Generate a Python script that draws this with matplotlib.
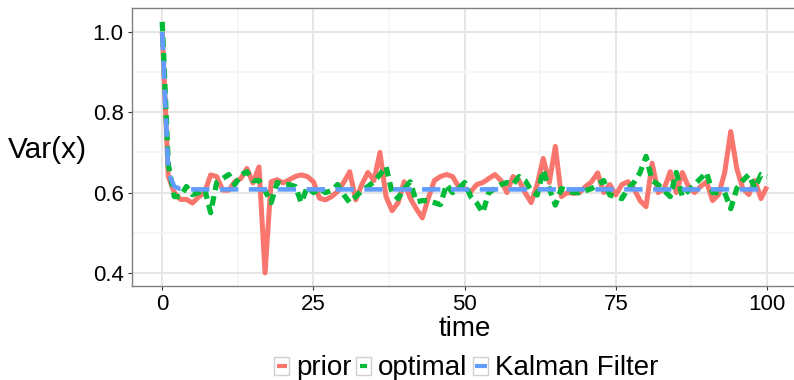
import matplotlib
matplotlib.use("Agg")
import matplotlib.pyplot as plt
from matplotlib.patches import Rectangle
from matplotlib.lines import Line2D
import numpy as np

plt.rcParams['font.family'] = ['Liberation Sans', 'DejaVu Sans']

time = list(range(101))
prior = [1.00, 0.64, 0.60, 0.583, 0.583, 0.574, 0.589, 0.60, 0.644, 0.64,
         0.606, 0.606, 0.627, 0.635, 0.66, 0.624, 0.664, 0.40, 0.627, 0.632,
         0.624, 0.632, 0.64, 0.644, 0.64, 0.627, 0.586, 0.582, 0.59, 0.603,
         0.625, 0.652, 0.582, 0.62, 0.65, 0.63, 0.70, 0.59, 0.555, 0.575,
         0.627, 0.586, 0.56, 0.537, 0.586, 0.63, 0.64, 0.645, 0.64, 0.615,
         0.61, 0.602, 0.62, 0.625, 0.635, 0.645, 0.63, 0.60, 0.64, 0.63,
         0.60, 0.575, 0.62, 0.685, 0.625, 0.715, 0.59, 0.60, 0.598, 0.60,
         0.615, 0.627, 0.649, 0.60, 0.62, 0.594, 0.62, 0.627, 0.61, 0.58,
         0.565, 0.673, 0.60, 0.61, 0.652, 0.60, 0.65, 0.615, 0.60, 0.615,
         0.627, 0.58, 0.595, 0.65, 0.752, 0.66, 0.61, 0.595, 0.63, 0.585,
         0.615]
optimal = [1.025, 0.67, 0.59, 0.59, 0.615, 0.595, 0.60, 0.61, 0.55, 0.625,
           0.635, 0.645, 0.62, 0.644, 0.652, 0.63, 0.63, 0.605, 0.575, 0.625,
           0.62, 0.62, 0.615, 0.575, 0.615, 0.60, 0.61, 0.60, 0.605, 0.62,
           0.595, 0.575, 0.59, 0.605, 0.615, 0.627, 0.645, 0.665, 0.60, 0.585,
           0.61, 0.627, 0.577, 0.58, 0.58, 0.575, 0.57, 0.62, 0.60, 0.61,
           0.625, 0.59, 0.574, 0.55, 0.60, 0.61, 0.62, 0.625, 0.62, 0.64,
           0.63, 0.605, 0.594, 0.656, 0.61, 0.569, 0.61, 0.605, 0.60, 0.60,
           0.605, 0.61, 0.62, 0.63, 0.594, 0.59, 0.585, 0.61, 0.625, 0.65,
           0.69, 0.63, 0.62, 0.605, 0.59, 0.65, 0.59, 0.605, 0.62, 0.635,
           0.65, 0.60, 0.60, 0.60, 0.56, 0.61, 0.63, 0.645, 0.61, 0.645,
           0.64]
kalman = [1.0, 0.65, 0.615, 0.609] + [0.608] * 97

series_names = ["prior", "optimal", "Kalman Filter"]
colors = ["#F8766D", "#00BA38", "#619CFF"]
x_ticks = [0, 25, 50, 75, 100]
x_ticklabels = ["0", "25", "50", "75", "100"]
y_ticks = [0.4, 0.6, 0.8, 1.0]
y_ticklabels = ["0.4", "0.6", "0.8", "1.0"]

W, H = 794, 380
fig = plt.figure(figsize=(W / 100, H / 100), dpi=100)

def fx(px):
    return px / W

def fy(py):
    return 1 - py / H

left, right, top, bottom = 132, 797.25, 8.3, 285.7
ax = fig.add_axes([fx(left), fy(bottom), fx(right) - fx(left), fy(top) - fy(bottom)])

ax.set_xlim(-5, 105)
ax.set_ylim(0.3682, 1.0588)

ax.set_xticks(x_ticks)
ax.set_xticklabels(x_ticklabels)
ax.set_xticks([12.5, 37.5, 62.5, 87.5], minor=True)
ax.set_yticks(y_ticks)
ax.set_yticklabels(y_ticklabels)
ax.set_yticks([0.5, 0.7, 0.9], minor=True)

ax.grid(which='major', color='#e6e6e6', linewidth=1.4)
ax.grid(which='minor', color='#f5f5f5', linewidth=1.2)
ax.set_axisbelow(True)

for s in ax.spines.values():
    s.set_color('#7f7f7f')
    s.set_linewidth(1.0)

ax.tick_params(which='major', length=3, width=0.8, color='#333333',
               labelcolor='black')
ax.tick_params(which='minor', length=0)
ax.tick_params(axis='y', labelsize=16, pad=3)
ax.tick_params(axis='x', labelsize=16, pad=3)

ax.plot(time, prior, color=colors[0], linewidth=3.6, solid_capstyle='butt',
        solid_joinstyle='round')
ax.plot(time, optimal, color=colors[1], linewidth=3.8,
        dashes=(1.8, 1.15), dash_capstyle='butt')
ax.plot(time, kalman, color=colors[2], linewidth=3.3,
        dashes=(4.0, 2.3), dash_capstyle='butt')

ax.set_xlabel("time", fontsize=20, labelpad=1)
fig.text(fx(8), fy(150), "Var(x)", fontsize=21.5, ha='left', va='center')

# legend (bottom, horizontal)
key_x = [274, 356, 473]
text_x = [296, 378, 495]
mark_span = [(3, 13), (4, 11), (1.5, 13.5)]
for i, name in enumerate(series_names):
    kx = key_x[i]
    fig.add_artist(Rectangle((fx(kx), fy(375)), fx(15), fy(357) - fy(375),
                             transform=fig.transFigure, facecolor='white',
                             edgecolor='#d0d0d0', linewidth=1.0))
    a, b = mark_span[i]
    ln = Line2D([fx(kx + a), fx(kx + b)], [fy(366), fy(366)],
                transform=fig.transFigure, color=colors[i], linewidth=3.0,
                solid_capstyle='butt')
    fig.add_artist(ln)
    fig.text(fx(text_x[i]), fy(375), name, fontsize=20, ha='left',
             va='baseline')

fig.savefig("out.png", dpi=100)
